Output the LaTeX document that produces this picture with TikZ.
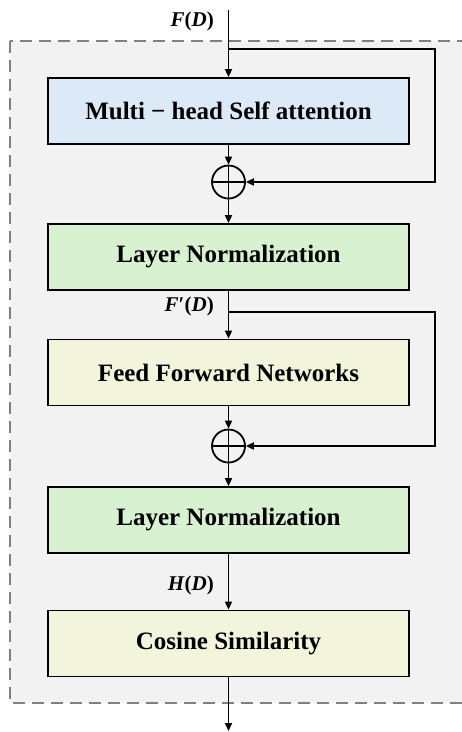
\documentclass[tikz,border=0pt]{standalone}
\usepackage{fontspec}
\setmainfont{Liberation Serif}
\usetikzlibrary{arrows.meta}
\definecolor{panelgray}{HTML}{F2F2F2}
\definecolor{dashgray}{HTML}{808080}
\definecolor{boxblue}{HTML}{DCE9F6}
\definecolor{boxgreen}{HTML}{D8F1D0}
\definecolor{boxyellow}{HTML}{F2F5DC}
\newcommand{\vi}[1]{\textit{#1}}
\tikzset{
  block/.style={draw=black, line width=1.8pt, minimum width=361pt, minimum height=66pt,
    inner sep=0pt, font=\fontsize{25}{28}\selectfont\bfseries},
  sumnode/.style={circle, draw=black, line width=1.8pt, minimum size=33pt, inner sep=0pt,
    path picture={\draw[line width=1.8pt]
      (path picture bounding box.north) -- (path picture bounding box.south)
      (path picture bounding box.west) -- (path picture bounding box.east);}},
  arr/.style={line width=1.8pt, -{Triangle[length=8pt,width=7pt]}},
  lab/.style={font=\fontsize{21}{24}\selectfont\bfseries, anchor=east, inner sep=0pt}
}
\begin{document}
\begin{tikzpicture}[x=1pt,y=-1pt]
\useasboundingbox (0,0) rectangle (462,732);
\clip (0,0) rectangle (462,732);
% dashed panel around the encoder
\draw[dashgray, fill=panelgray, line width=2.5pt, dash pattern=on 12pt off 7pt]
  (10,41) rectangle (480,703);

% blocks
\node[block, fill=boxblue]   (mhsa) at (228.5,111)   {Multi − head Self attention};
\node[block, fill=boxgreen]  (ln1)  at (228.5,257)   {Layer Normalization};
\node[block, fill=boxyellow] (ffn)  at (228.5,372.5) {Feed Forward Networks};
\node[block, fill=boxgreen]  (ln2)  at (228.5,520)   {Layer Normalization};
\node[block, fill=boxyellow] (cos)  at (228.5,643.5) {Cosine Similarity};

% residual adders
\node[sumnode] (s1) at (228.5,182) {};
\node[sumnode] (s2) at (228.5,446) {};

% free ends and branch points
\coordinate (in)  at (228.5,10);
\coordinate (out) at (228.5,731);
\coordinate (b1)  at (228.5,49);
\coordinate (r1)  at (435,49);
\coordinate (b2)  at (228.5,312);
\coordinate (r2)  at (435,312);

% labels
\node[lab] (lF)  at (214,21)  {\vi{F}(\vi{D})};
\node[lab] (lF2) at (214,306) {\vi{F}′(\vi{D})};
\node[lab] (lH)  at (214,585) {\vi{H}(\vi{D})};

% connectors
\draw[arr] (in) -- (mhsa.north);
\draw[arr] (mhsa.south) -- (s1.north);
\draw[arr] (b1) -- (r1) |- (s1.east);
\draw[arr] (s1.south) -- (ln1.north);
\draw[arr] (ln1.south) -- (ffn.north);
\draw[arr] (b2) -- (r2) |- (s2.east);
\draw[arr] (ffn.south) -- (s2.north);
\draw[arr] (s2.south) -- (ln2.north);
\draw[arr] (ln2.south) -- (cos.north);
\draw[arr] (cos.south) -- (out);
\end{tikzpicture}
\end{document}
